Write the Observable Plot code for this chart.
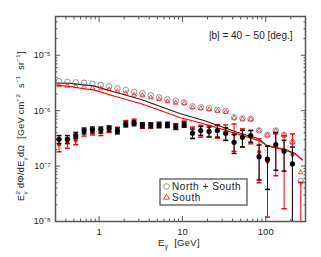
<!DOCTYPE html>
<html><head><meta charset="utf-8">
<script src="https://cdn.jsdelivr.net/npm/d3@7"></script>
<script src="https://cdn.jsdelivr.net/npm/@observablehq/plot@0.6"></script>
<style>body{margin:0;background:#fff}</style>
</head><body><div id="chart"></div>
<script>
// Photon energy bin centres [GeV]
const energy = [0.331, 0.417, 0.525, 0.661, 0.832, 1.05, 1.32, 1.66, 2.09, 2.63, 3.31, 4.17, 5.25, 6.61, 8.32, 10.5, 13.2, 16.6, 20.9, 26.3, 33.1, 41.7, 52.5, 66.1, 83.2, 105, 132, 166, 209, 263];
// Open symbols: total intensity
const northSouthTotal = [3.38e-6, 3.31e-6, 3.24e-6, 3.18e-6, 3.05e-6, 2.92e-6, 2.74e-6, 2.52e-6, 2.37e-6, 2.18e-6, 2.05e-6, 1.89e-6, 1.73e-6, 1.60e-6, 1.50e-6, 1.41e-6, 1.19e-6, 1.14e-6, 1.10e-6, 1.03e-6, 9.9e-7, 7.54e-7, 7.23e-7, 7.08e-7, 4.38e-7, 3.63e-7, 4.38e-7, 3.63e-7, 2.71e-7, 5.33e-8];
const southTotal = [2.86e-6, 2.80e-6, 2.74e-6, 2.68e-6, 2.57e-6, 2.50e-6, 2.42e-6, 2.23e-6, 2.09e-6, 1.93e-6, 1.89e-6, 1.73e-6, 1.60e-6, 1.47e-6, 1.38e-6, 1.35e-6, 1.14e-6, 1.10e-6, 1.05e-6, 9.9e-7, 9.5e-7, 7.4e-7, 7.1e-7, 6.95e-7, 4.38e-7, 3.63e-7, 4.3e-7, 3.63e-7, 2.71e-7, 7.69e-8];
// Filled symbols with errors
const northSouthExcess = [3.05e-7, 3.05e-7, 3.6e-7, 4.33e-7, 4.51e-7, 4.51e-7, 4.76e-7, 4.33e-7, 5.69e-7, 5.94e-7, 5.46e-7, 5.46e-7, 5.46e-7, 5.5e-7, 5.17e-7, 5.62e-7, 3.91e-7, 4.38e-7, 4.2e-7, 4.38e-7, 3.91e-7, 2.69e-7, 3.31e-7, 3.55e-7, 1.48e-7, 1.33e-7, 2.44e-7, 1.86e-7, 1.1e-7, null];
const northSouthErr = [0.5e-7, 0.5e-7, 0.45e-7, 0.52e-7, 0.55e-7, 0.55e-7, 0.55e-7, 0.52e-7, 0.6e-7, 0.6e-7, 0.55e-7, 0.55e-7, 0.55e-7, 0.55e-7, 0.55e-7, 0.6e-7, 0.75e-7, 0.8e-7, 0.85e-7, 1.05e-7, 1.0e-7, 1.0e-7, 1.1e-7, 0.85e-7, 0.92e-7, 0.95e-7, 1.6e-7, 1.05e-7, 1.1e-7, null];
const southExcess = [2.44e-7, 2.65e-7, 2.88e-7, 4.03e-7, 4.2e-7, 4.1e-7, 4.6e-7, 4.47e-7, 5.98e-7, 6.37e-7, 5.4e-7, 5.4e-7, 5.62e-7, 5.62e-7, 5.17e-7, 5.83e-7, 4.1e-7, 4.38e-7, 4.4e-7, 4.4e-7, 4.2e-7, 3.8e-7, 3.44e-7, 3.45e-7, 1.8e-7, 1.2e-7, 2.24e-7, 1.86e-7, 1.6e-7, 0];
const southErr = [0.63e-7, 0.55e-7, 0.45e-7, 0.55e-7, 0.55e-7, 0.55e-7, 0.55e-7, 0.55e-7, 0.65e-7, 0.65e-7, 0.6e-7, 0.6e-7, 0.6e-7, 0.6e-7, 0.6e-7, 0.65e-7, 0.95e-7, 1.05e-7, 1.0e-7, 1.2e-7, 1.3e-7, 1.95e-7, 1.25e-7, 0.93e-7, 1.3e-7, 1.08e-7, 1.57e-7, 1.69e-7, 2.2e-7, 5.1e-8];
// Model curves
const modelE = [0.314, 0.454, 0.655, 0.857, 1.65, 3.14, 5.46, 9.48, 18.1, 45.5, 82.6, 104, 173, 228, 274];
const modelNorthSouth = [3.15e-6, 3.11e-6, 2.92e-6, 2.80e-6, 2.11e-6, 1.60e-6, 1.19e-6, 8.8e-7, 6.65e-7, 4.08e-7, 3.1e-7, 2.34e-7, 1.96e-7, 1.66e-7, 1.29e-7];
const modelSouth = [2.86e-6, 2.72e-6, 2.49e-6, 2.37e-6, 1.76e-6, 1.35e-6, 1.01e-6, 7.44e-7, 5.79e-7, 3.81e-7, 2.88e-7, 2.34e-7, 1.96e-7, 1.66e-7, 1.29e-7];
// Ticks
const xMajor = [1, 10, 100];
const xMinor = [0.4, 0.5, 0.6, 0.7, 0.8, 0.9, 2, 3, 4, 5, 6, 7, 8, 9, 20, 30, 40, 50, 60, 70, 80, 90, 200];
const yMajor = [1e-8, 1e-7, 1e-6, 1e-5];
const yMinor = [];
for (const d of [-8, -7, -6, -5]) for (const k of [2,3,4,5,6,7,8,9]) { const v = k * Math.pow(10, d); if (v < 5e-5) yMinor.push(v); }
const annotation = "|b| = 40 \u2212 50 [deg.]";
const legendLabels = ["North + South", "South"];

const rows = energy.map((e, i) => ({e, nsT: northSouthTotal[i], sT: southTotal[i], nsR: northSouthExcess[i], nsE: northSouthErr[i], sR: southExcess[i], sE: southErr[i]}));
const blackRows = rows.filter(d => d.nsR != null);
const models = modelE.map((e, i) => ({e, ns: modelNorthSouth[i], s: modelSouth[i]}));

const cap = {draw(ctx, size) { const w = Math.sqrt(size / Math.PI); ctx.moveTo(-w, 0); ctx.lineTo(w, 0); }};
const sup = s => String(s).replace(/-/g, "\u207B").replace(/\d/g, c => "\u2070\u00B9\u00B2\u00B3\u2074\u2075\u2076\u2077\u2078\u2079"[c]);
const AX = "#555";
const FONT = "'Liberation Sans', Arial, Helvetica, sans-serif";

const svg = Plot.plot({
  width: 321, height: 257,
  marginLeft: 55, marginRight: 16, marginTop: 16, marginBottom: 36,
  style: {fontFamily: FONT, fontSize: "9px", background: "white", color: "#111"},
  x: {type: "log", domain: [0.3, 300]},
  y: {type: "log", domain: [1e-8, 5e-5]},
  marks: [
    Plot.axisY({ticks: yMinor, anchor: "left", tickSize: -2.5, tickFormat: () => "", label: null, stroke: AX}),
    Plot.axisY({ticks: yMinor, anchor: "right", tickSize: -2.5, tickFormat: () => "", label: null, stroke: AX}),
    Plot.axisY({ticks: yMajor, anchor: "left", tickSize: -5, tickPadding: 10, tickFormat: d => "10" + sup(Math.round(Math.log10(d))), label: null, stroke: AX, fill: "#222"}),
    Plot.axisY({ticks: yMajor, anchor: "right", tickSize: -5, tickFormat: () => "", label: null, stroke: AX}),
    Plot.axisX({ticks: xMinor, anchor: "bottom", tickSize: -2.5, tickFormat: () => "", label: null, stroke: AX}),
    Plot.axisX({ticks: xMinor, anchor: "top", tickSize: -2.5, tickFormat: () => "", label: null, stroke: AX}),
    Plot.axisX({ticks: xMajor, anchor: "bottom", tickSize: -5, tickPadding: 12, tickFormat: d => String(d), label: null, stroke: AX, fill: "#222", fontSize: 9.5}),
    Plot.axisX({ticks: xMajor, anchor: "top", tickSize: -5, tickFormat: () => "", label: null, stroke: AX}),
    Plot.frame({stroke: AX, strokeWidth: 1.5}),
    Plot.line(models, {x: "e", y: "ns", stroke: "#222", strokeWidth: 1.1}),
    Plot.line(models, {x: "e", y: "s", stroke: "#f00", strokeWidth: 1.1}),
    Plot.dot(rows, {x: "e", y: "nsT", r: 2.8, stroke: "#777", strokeWidth: 0.8, fill: "none"}),
    Plot.dot(rows, {x: "e", y: "sT", r: 1.7, symbol: "triangle", stroke: "#f00", strokeWidth: 0.7, fill: "none"}),
    Plot.ruleX(rows, {x: "e", y1: d => Math.max(d.sR - d.sE, 1e-10), y2: d => d.sR + d.sE, stroke: "#f00", strokeWidth: 1, clip: true}),
    Plot.dot(rows, {x: "e", y: d => Math.max(d.sR - d.sE, 1e-10), symbol: cap, r: 2.5, stroke: "#f00", fill: "none", clip: true}),
    Plot.dot(rows, {x: "e", y: d => d.sR + d.sE, symbol: cap, r: 2.5, stroke: "#f00", fill: "none", clip: true}),
    Plot.dot(rows.filter(d => d.sR > 0), {x: "e", y: "sR", r: 2, fill: "#f00", stroke: "none"}),
    Plot.ruleX(blackRows, {x: "e", y1: d => Math.max(d.nsR - d.nsE, 1e-10), y2: d => d.nsR + d.nsE, stroke: "#111", strokeWidth: 1, clip: true}),
    Plot.dot(blackRows, {x: "e", y: d => Math.max(d.nsR - d.nsE, 1e-10), symbol: cap, r: 2.5, stroke: "#111", fill: "none", clip: true}),
    Plot.dot(blackRows, {x: "e", y: d => d.nsR + d.nsE, symbol: cap, r: 2.5, stroke: "#111", fill: "none", clip: true}),
    Plot.dot(blackRows, {x: "e", y: "nsR", r: 2.6, fill: "#000", stroke: "none"}),
    Plot.text([annotation], {frameAnchor: "top-right", dx: -13, dy: 19, lineAnchor: "middle", textAnchor: "end", fontSize: 10, fill: "#222"})
  ]
});
document.getElementById("chart").appendChild(svg);

const s = d3.select(svg);
function rich(sel, segs, size) {
  let cur = 0;
  for (const [t, lvl, dx] of segs) {
    const target = lvl === 1 ? -size * 0.42 : lvl === -1 ? size * 0.3 : 0;
    const ts = sel.append("tspan").attr("dy", target - cur).text(t);
    if (lvl) ts.attr("font-size", size * 0.68);
    if (dx) ts.attr("dx", dx);
    cur = target;
  }
}
// y label
const yl = s.append("text").attr("transform", "translate(24,126) rotate(-90)")
  .attr("text-anchor", "middle").attr("font-family", FONT).attr("font-size", 9).attr("fill", "#222")
  .attr("letter-spacing", 0.35);
rich(yl, [["E",0],["\u03B3",-1],["2",1,-3.4],[" d\u03A6/dE",0],["\u03B3",-1],["d\u03A9  [GeV cm",0],["\u22122",1],["  s",0],["\u22121",1],["  sr",0],["\u22121",1],["]",0]], 9);
// x label
const xl = s.append("text").attr("x", 179).attr("y", 246).attr("text-anchor", "middle")
  .attr("font-family", FONT).attr("font-size", 9.5).attr("fill", "#222").attr("letter-spacing", 0.3);
rich(xl, [["E",0],["\u03B3",-1],["  [GeV]",0]], 9.5);
// legend
const lg = s.append("g").attr("text-anchor", "start");
lg.append("rect").attr("x", 160).attr("y", 179).attr("width", 87).attr("height", 26).attr("fill", "white").attr("stroke", AX).attr("stroke-width", 1.3);
lg.append("path").attr("transform", "translate(166.5,186.5)").attr("d", d3.symbol(d3.symbolCircle, Math.PI * 2.8 * 2.8)()).attr("fill", "none").attr("stroke", "#777").attr("stroke-width", 0.8);
lg.append("path").attr("transform", "translate(166.5,197.5)").attr("d", d3.symbol(d3.symbolTriangle, Math.PI * 1.7 * 1.7 * 1.6)()).attr("fill", "none").attr("stroke", "#f00").attr("stroke-width", 0.8);
legendLabels.forEach((t, i) => {
  lg.append("text").attr("x", 172).attr("y", 186.5 + i * 11).attr("dy", "0.35em").attr("text-anchor", "start")
    .attr("letter-spacing", 0.55)
    .attr("font-family", FONT).attr("font-size", 10).attr("fill", "#222").text(t);
});
</script>
</body></html>
